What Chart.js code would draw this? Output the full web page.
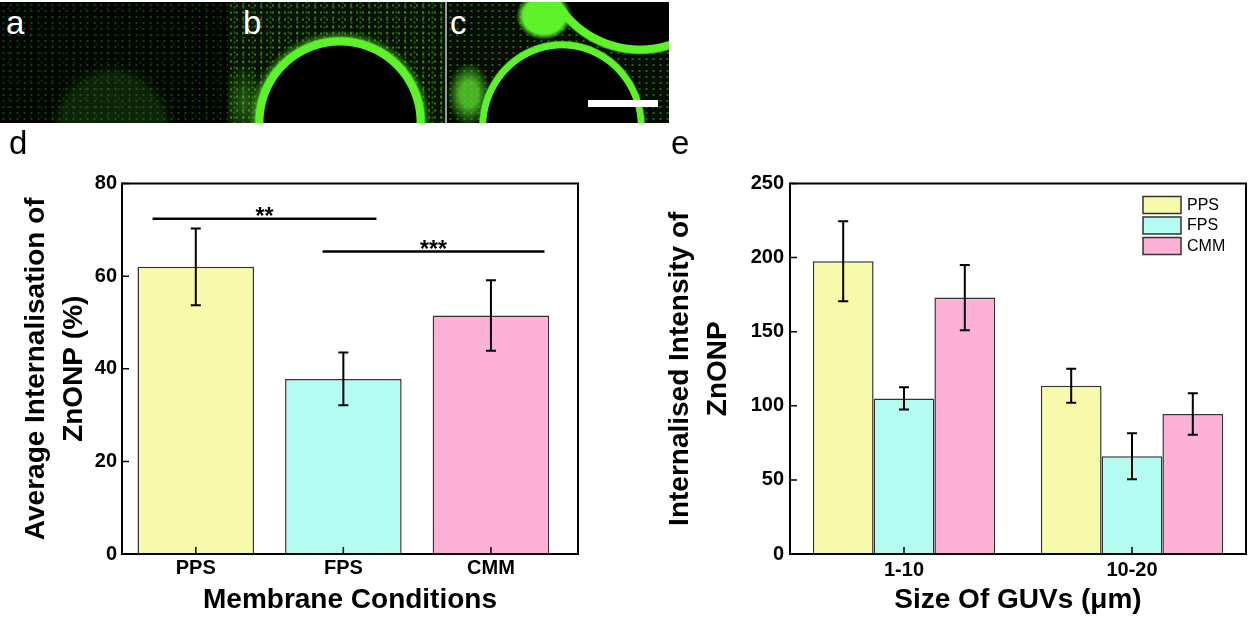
<!DOCTYPE html>
<html>
<head>
<meta charset="utf-8">
<script src="https://cdn.jsdelivr.net/npm/chart.js@4.4.0/dist/chart.umd.min.js"></script>
<style>
  body { margin: 0; background: #fff; width: 1252px; height: 619px; position: relative; overflow: hidden; font-family: "Liberation Sans", Arial, sans-serif; }
  .micro { position: absolute; top: 2px; height: 121px; overflow: hidden; }
  #pa {
    left: 0; width: 228px;
    background:
      radial-gradient(circle at 112px 124px, rgba(70,170,40,0.18) 0 50px, rgba(70,170,40,0.07) 57px, transparent 64px),
      radial-gradient(circle, rgba(80,200,40,0.3) 0 0.7px, transparent 1.4px) 0 0/7px 6px,
      radial-gradient(circle, rgba(80,200,40,0.2) 0 0.7px, transparent 1.4px) 3px 2px/11px 9px,
      #020602;
  }
  #pb {
    left: 228px; width: 217px;
    background:
      radial-gradient(circle at 112px 120px, #000 0 76px, #5ef22b 77px 84px, rgba(70,190,35,0.45) 86px, transparent 92px),
      radial-gradient(ellipse 22px 40px at 16px 100px, rgba(80,200,40,0.4), transparent),
      radial-gradient(circle, rgba(90,220,45,0.5) 0 0.8px, transparent 1.5px) 0 0/6px 7px,
      radial-gradient(circle, rgba(90,220,45,0.35) 0 0.8px, transparent 1.5px) 2px 3px/9px 5px,
      #071204;
  }
  #pc {
    left: 447px; width: 222px;
    background:
      radial-gradient(ellipse 28px 24px at 97px 14px, #5ef22b 0 75%, transparent 100%),
      radial-gradient(circle at 193px -50px, #000 0 93px, #5ef22b 94px 101px, transparent 103px),
      radial-gradient(ellipse 82px 85px at 115px 125px, #000 0 92%, #5ef22b 93% 100%, transparent 102%),
      radial-gradient(ellipse 22px 32px at 22px 92px, rgba(90,220,45,0.8) 0 40%, rgba(70,180,35,0.4) 75%, transparent 100%),
      radial-gradient(circle, rgba(90,220,45,0.4) 0 0.8px, transparent 1.5px) 0 0/7px 6px,
      #050d04;
  }
  #divider { position: absolute; left: 445px; top: 2px; width: 2px; height: 121px; background: #9a9a9a; }
  #scalebar { position: absolute; left: 588px; top: 100px; width: 70px; height: 7px; background: #fff; }
  .plabel { position: absolute; line-height: 1; font-size: 33px; color: #fff; }
  .clabel { position: absolute; line-height: 1; font-size: 33px; color: #000; }
  canvas { position: absolute; }
</style>
</head>
<body>
<div class="micro" id="pa"></div>
<div class="micro" id="pb"></div>
<div class="micro" id="pc"></div>
<div id="divider"></div>
<div id="scalebar"></div>
<div class="plabel" style="left:6px;top:6px;">a</div>
<div class="plabel" style="left:243px;top:6px;">b</div>
<div class="plabel" style="left:450px;top:6px;">c</div>

<canvas id="chartD" width="600" height="489" style="left:0;top:130px;"></canvas>
<canvas id="chartE" width="612" height="489" style="left:640px;top:130px;"></canvas>
<div class="clabel" style="left:9px;top:126px;">d</div>
<div class="clabel" style="left:671px;top:126px;">e</div>

<script>
// panel d
const dCategories = ['PPS', 'FPS', 'CMM'];
const dMeans = [62, 37.8, 51.5];
const dErrors = [8.3, 5.7, 7.6];
const dYTicks = [0, 20, 40, 60, 80];
// significance bars (x in category units)
const sigLabels = ['**', '***'];
const sigFrom = [-0.293, 0.859];
const sigTo = [1.224, 2.363];
const sigLevel = [72.4, 65.3];

// panel e
const eCategories = ['1-10', '10-20'];
const eSeries = ['PPS', 'FPS', 'CMM'];
const ppsMeans = [197.5, 113.5];
const ppsErrors = [27, 11.5];
const fpsMeans = [105, 66];
const fpsErrors = [7.5, 15.5];
const cmmMeans = [173, 94.5];
const cmmErrors = [22, 14];
const eYTicks = [0, 50, 100, 150, 200, 250];

const colors = ['#f8faab', '#b4fcf2', '#fdb1d6'];
const FONT = "'Liberation Sans', Arial, sans-serif";
Chart.defaults.font.family = FONT;
Chart.defaults.color = '#000';

function yOf(d) { return typeof d === 'object' ? d.y : d; }

const framePlugin = {
  id: 'frame',
  afterDatasetsDraw(chart) {
    const { ctx, chartArea: a, scales: { x, y } } = chart;
    ctx.save();
    ctx.strokeStyle = '#000';
    // error bars
    ctx.lineWidth = 2;
    chart.data.datasets.forEach((ds, di) => {
      if (!ds.errors) return;
      chart.getDatasetMeta(di).data.forEach((bar, i) => {
        const v = yOf(ds.data[i]);
        const top = y.getPixelForValue(v + ds.errors[i]);
        const bot = y.getPixelForValue(v - ds.errors[i]);
        ctx.beginPath();
        ctx.moveTo(bar.x, top); ctx.lineTo(bar.x, bot);
        ctx.moveTo(bar.x - 5, top); ctx.lineTo(bar.x + 5, top);
        ctx.moveTo(bar.x - 5, bot); ctx.lineTo(bar.x + 5, bot);
        ctx.stroke();
      });
    });
    // inward ticks
    ctx.lineWidth = 1.5;
    ctx.beginPath();
    y.ticks.forEach(t => {
      const py = y.getPixelForValue(t.value);
      ctx.moveTo(a.left, py); ctx.lineTo(a.left + 7, py);
    });
    x.ticks.forEach((t, i) => {
      const px = x.getPixelForTick(i);
      ctx.moveTo(px, a.bottom); ctx.lineTo(px, a.bottom - 7);
    });
    ctx.stroke();
    ctx.lineWidth = 2;
    ctx.strokeRect(a.left, a.top, a.right - a.left, a.bottom - a.top);
    ctx.restore();
  }
};

const sigPlugin = {
  id: 'sig',
  afterDatasetsDraw(chart) {
    const { ctx, scales: { x, y } } = chart;
    ctx.save();
    ctx.fillStyle = '#000';
    ctx.font = 'bold 23px ' + FONT;
    ctx.textAlign = 'center';
    ctx.textBaseline = 'alphabetic';
    sigLabels.forEach((s, k) => {
      const cx = (x.getPixelForValue(sigFrom[k]) + x.getPixelForValue(sigTo[k])) / 2;
      ctx.fillText(s, cx, y.getPixelForValue(sigLevel[k]) + 5);
    });
    ctx.restore();
  }
};

const legendPlugin = {
  id: 'boxLegend',
  afterDraw(chart) {
    const { ctx, chartArea: a } = chart;
    ctx.save();
    ctx.font = '16px ' + FONT;
    ctx.textBaseline = 'middle';
    chart.data.datasets.forEach((ds, i) => {
      const bx = a.right - 103, by = a.top + 13 + i * 20.5;
      ctx.fillStyle = ds.backgroundColor;
      ctx.fillRect(bx, by, 38, 17);
      ctx.strokeStyle = '#333';
      ctx.lineWidth = 1.5;
      ctx.strokeRect(bx, by, 38, 17);
      ctx.fillStyle = '#000';
      ctx.fillText(ds.label, bx + 44, by + 9);
    });
    ctx.restore();
  }
};

const tickFont = { family: FONT, size: 20, weight: 'bold' };
const titleFont = { family: FONT, size: 28, weight: 'bold', lineHeight: 1.36 };

new Chart(document.getElementById('chartD'), {
  type: 'bar',
  data: {
    datasets: [
      {
        label: 'Average Internalisation',
        data: dCategories.map((c, i) => ({ x: i, y: dMeans[i] })),
        errors: dErrors,
        backgroundColor: colors,
        borderColor: '#333',
        borderWidth: 1.5,
        barPercentage: 0.79,
        categoryPercentage: 1
      },
      ...sigLabels.map((s, k) => ({
        type: 'line',
        label: s,
        data: [{ x: sigFrom[k], y: sigLevel[k] }, { x: sigTo[k], y: sigLevel[k] }],
        borderColor: '#000',
        borderWidth: 2.5,
        pointRadius: 0,
        fill: false
      }))
    ]
  },
  options: {
    responsive: false,
    animation: false,
    events: [],
    layout: { padding: { top: 53.5, right: 22, left: 0, bottom: 0 } },
    plugins: { legend: { display: false }, tooltip: { enabled: false } },
    scales: {
      x: {
        type: 'linear',
        min: -0.5,
        max: 2.59,
        offset: false,
        bounds: 'data',
        afterBuildTicks: s => { s.ticks = dCategories.map((c, i) => ({ value: i })); },
        afterFit: s => { s.height = 65; },
        grid: { display: false, drawTicks: false, offset: false },
        border: { display: false },
        ticks: { callback: v => dCategories[v], font: tickFont, color: '#000', padding: 2, maxRotation: 0, autoSkip: false },
        title: { display: true, text: 'Membrane Conditions', font: titleFont, color: '#000', padding: 0 }
      },
      y: {
        min: 0,
        max: 80,
        afterBuildTicks: s => { s.ticks = dYTicks.map(v => ({ value: v })); },
        afterFit: s => { s.width = 122; },
        grid: { display: false, drawTicks: false },
        border: { display: false },
        ticks: { font: tickFont, color: '#000', padding: 5 },
        title: { display: true, text: ['Average Internalisation of', 'ZnONP (%)'], font: titleFont, color: '#000', padding: { top: 17.5, bottom: 0 } }
      }
    }
  },
  plugins: [framePlugin, sigPlugin]
});

const eMeans = [ppsMeans, fpsMeans, cmmMeans];
const eErrs = [ppsErrors, fpsErrors, cmmErrors];

new Chart(document.getElementById('chartE'), {
  type: 'bar',
  data: {
    labels: eCategories,
    datasets: eSeries.map((name, i) => ({
      label: name,
      data: eMeans[i],
      errors: eErrs[i],
      backgroundColor: colors[i],
      borderColor: '#333',
      borderWidth: 1.5,
      categoryPercentage: 0.8,
      barPercentage: 1
    }))
  },
  options: {
    responsive: false,
    animation: false,
    events: [],
    layout: { padding: { top: 53.5, right: 6, left: 0, bottom: 0 } },
    plugins: { legend: { display: false }, tooltip: { enabled: false } },
    scales: {
      x: {
        afterFit: s => { s.height = 65; },
        grid: { display: false, drawTicks: false },
        border: { display: false },
        ticks: { font: tickFont, color: '#000', padding: 4, maxRotation: 0 },
        title: { display: true, text: 'Size Of GUVs (\u03bcm)', font: titleFont, color: '#000', padding: 0 }
      },
      y: {
        min: 0,
        max: 250,
        afterBuildTicks: s => { s.ticks = eYTicks.map(v => ({ value: v })); },
        afterFit: s => { s.width = 150; },
        grid: { display: false, drawTicks: false },
        border: { display: false },
        ticks: { font: tickFont, color: '#000', padding: 6 },
        title: { display: true, text: ['Internalised Intensity of', 'ZnONP'], font: titleFont, color: '#000', padding: { top: 21, bottom: 0 } }
      }
    }
  },
  plugins: [framePlugin, legendPlugin]
});
</script>
</body>
</html>
